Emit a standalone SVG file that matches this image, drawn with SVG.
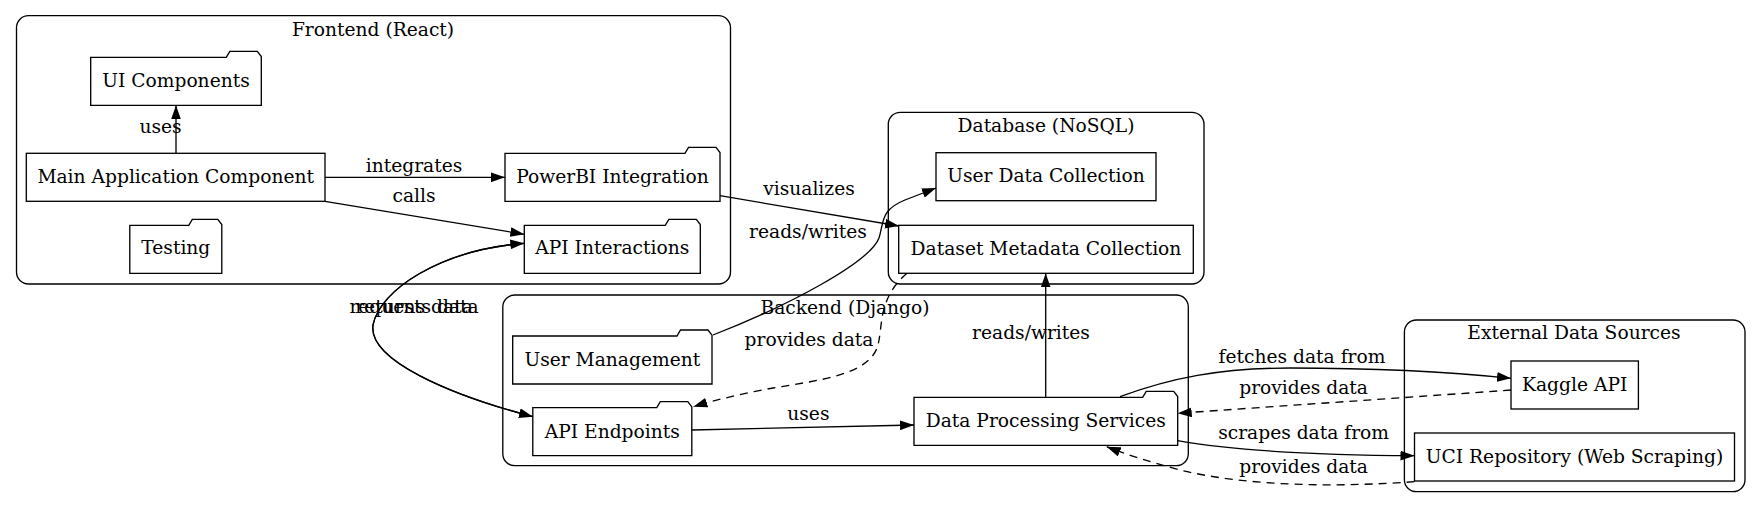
<svg xmlns="http://www.w3.org/2000/svg" width="1761" height="508" viewBox="0 0 1761 508">
<style>
text{font-family:"DejaVu Serif","Liberation Serif",serif;font-size:18.67px;fill:#000;text-anchor:middle}
.cl{fill:none;stroke:#000;stroke-width:1.33}
.nd{fill:#fff;stroke:#000;stroke-width:1.33}
.e{fill:none;stroke:#000;stroke-width:1.33;marker-end:url(#ah)}
.d{stroke-dasharray:8,6}
</style>
<defs>
<marker id="ah" markerUnits="userSpaceOnUse" markerWidth="14" markerHeight="10" viewBox="0 0 13.33 9.33" refX="13.33" refY="4.67" orient="auto">
<path d="M0,0 L13.33,4.67 L0,9.33 Z" fill="#000" stroke="none"/>
</marker>
</defs>
<rect width="1761" height="508" fill="#fff"/>
<g id="clusters">
<g id="cluster-frontend"><rect class="cl" x="16.5" y="15.7" width="714" height="268.3" rx="12"/><text x="373" y="36">Frontend (React)</text></g>
<g id="cluster-database"><rect class="cl" x="888.3" y="112.3" width="315.7" height="171.7" rx="12"/><text x="1046" y="132">Database (NoSQL)</text></g>
<g id="cluster-backend"><rect class="cl" x="502.8" y="295" width="685.5" height="170.7" rx="12"/><text x="845" y="314">Backend (Django)</text></g>
<g id="cluster-external"><rect class="cl" x="1404.4" y="320" width="340.6" height="171.7" rx="12"/><text x="1574" y="339">External Data Sources</text></g>
</g>
<g id="connectors">
<path class="e" d="M176,153.3 L176,105.3"/>
<text x="160.5" y="133">uses</text>
<path class="e" d="M325,177.3 L505,177.3"/>
<text x="414" y="171.7">integrates</text>
<path class="e" d="M325,201.3 L524.3,234.3"/>
<text x="414" y="202">calls</text>
<path class="e" d="M720,195.7 L899,226"/>
<text x="809" y="195">visualizes</text>
<path class="e" d="M713,335 C790,305 870,262 879,238 C884,222 880,210 905,200 L936,188"/>
<text x="808" y="238.3">reads/writes</text>
<path class="e" d="M524.3,243.3 C440,250 380,290 373,325 C368,360 450,395 533,416.7"/>
<path class="e" d="M533,416.7 C450,395 368,360 373,325 C380,290 440,250 524.3,243.3"/>
<text x="414" y="313.3">requests data</text>
<text x="414" y="313.3">returns data</text>
<path class="e d" d="M907,273.3 C878,298 883,325 878,345 C870,375 820,380 773,388 C745,393 715,400 693.3,406.7"/>
<text x="809" y="346">provides data</text>
<path class="e" d="M691.8,430 L914,425"/>
<text x="808.4" y="420">uses</text>
<path class="e" d="M1045.7,397.3 L1045.7,273.3"/>
<text x="1031" y="339.3">reads/writes</text>
<path class="e" d="M1120,396.7 C1170,378 1220,368 1290,368 C1380,368 1450,372 1511,378.3"/>
<text x="1302" y="362.7">fetches data from</text>
<path class="e d" d="M1511,390 C1400,398 1280,406 1177.7,413.3"/>
<text x="1303.6" y="394.3">provides data</text>
<path class="e" d="M1177.7,440.7 C1230,450 1300,455 1414.5,455.7"/>
<text x="1303.6" y="439.3">scrapes data from</text>
<path class="e d" d="M1414.5,481.7 C1340,487 1250,487 1180,470 C1150,462 1125,454 1106.7,446.7"/>
<text x="1303.6" y="473.3">provides data</text>
</g>
<g id="node-ui-components"><path class="nd" d="M90.7,57.3 L226.3,57.3 L229.8,51.3 L257.3,51.3 L261.3,56.5 L261.3,105.3 L90.7,105.3 Z"/><text x="176" y="87">UI Components</text></g>
<g id="node-main-app"><rect class="nd" x="26.3" y="153.3" width="298.7" height="48"/><text x="175.7" y="182.5">Main Application Component</text></g>
<g id="node-powerbi"><path class="nd" d="M505,153.3 L685,153.3 L688.5,147.3 L716,147.3 L720,152.5 L720,201.3 L505,201.3 Z"/><text x="612.5" y="182.5">PowerBI Integration</text></g>
<g id="node-testing"><path class="nd" d="M129.8,225.3 L188.8,225.3 L192.3,219.3 L217.8,219.3 L221.8,224.5 L221.8,273.3 L129.8,273.3 Z"/><text x="175.8" y="254.3">Testing</text></g>
<g id="node-api-interactions"><path class="nd" d="M524.3,225.3 L665.3,225.3 L668.8,219.3 L696.3,219.3 L700.3,224.5 L700.3,273.3 L524.3,273.3 Z"/><text x="612.3" y="254.3">API Interactions</text></g>
<g id="node-user-data"><rect class="nd" x="936" y="152.7" width="220" height="48"/><text x="1046" y="182">User Data Collection</text></g>
<g id="node-dataset-metadata"><rect class="nd" x="898.7" y="225.3" width="294.6" height="48"/><text x="1046" y="255">Dataset Metadata Collection</text></g>
<g id="node-user-management"><path class="nd" d="M512.7,336 L677,336 L680.5,330 L708,330 L712,335.2 L712,384 L512.7,384 Z"/><text x="612.3" y="365.5">User Management</text></g>
<g id="node-api-endpoints"><path class="nd" d="M532.8,407.7 L656.8,407.7 L660.3,401.7 L687.8,401.7 L691.8,406.9 L691.8,455.7 L532.8,455.7 Z"/><text x="612.3" y="437.5">API Endpoints</text></g>
<g id="node-data-processing"><path class="nd" d="M914,397.3 L1142.7,397.3 L1146.2,391.3 L1173.7,391.3 L1177.7,396.5 L1177.7,445.3 L914,445.3 Z"/><text x="1045.8" y="427">Data Processing Services</text></g>
<g id="node-kaggle"><rect class="nd" x="1511" y="361" width="127.4" height="48"/><text x="1574.7" y="391">Kaggle API</text></g>
<g id="node-uci"><rect class="nd" x="1414.5" y="433" width="320" height="48"/><text x="1574.5" y="463">UCI Repository (Web Scraping)</text></g>
</svg>
